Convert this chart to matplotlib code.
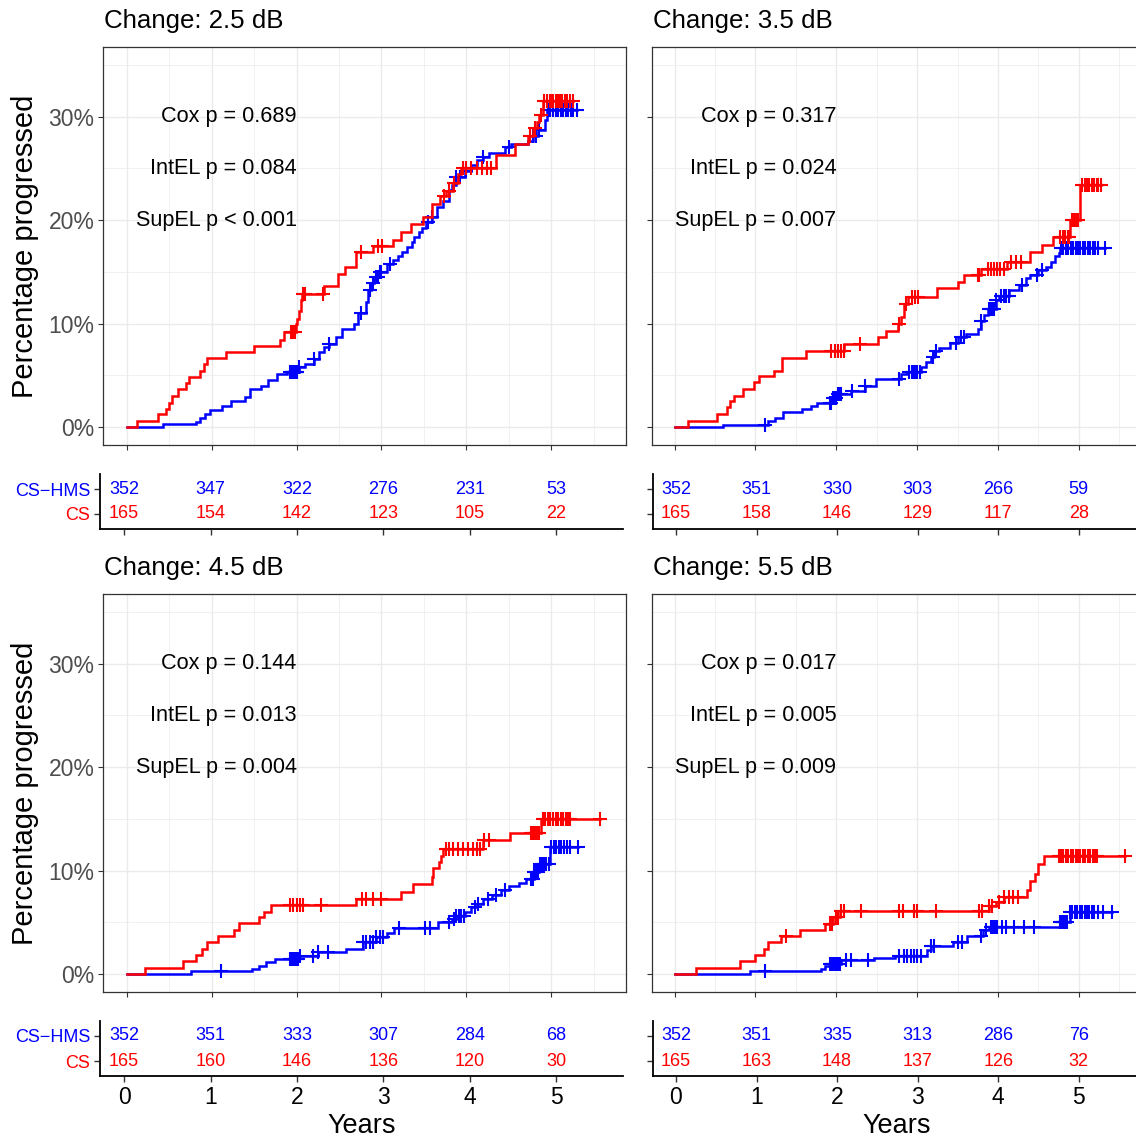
import numpy as np
import matplotlib
matplotlib.use("Agg")
import matplotlib.pyplot as plt
from matplotlib.ticker import FixedLocator

plt.rcParams['font.family'] = ['Liberation Sans', 'DejaVu Sans']

W, H = 1136, 1138
RED = '#FF0000'
BLUE = '#0000FF'

# ---------------- data ----------------
panel_titles = ["Change: 2.5 dB", "Change: 3.5 dB", "Change: 4.5 dB", "Change: 5.5 dB"]
pval_texts = [
    ["Cox p = 0.689", "IntEL p = 0.084", "SupEL p < 0.001"],
    ["Cox p = 0.317", "IntEL p = 0.024", "SupEL p = 0.007"],
    ["Cox p = 0.144", "IntEL p = 0.013", "SupEL p = 0.004"],
    ["Cox p = 0.017", "IntEL p = 0.005", "SupEL p = 0.009"],
]
group_labels = ["CS", "CS\u2212HMS"]
risk_years = [0, 1, 2, 3, 4, 5]
y_ticks_pct = [0, 10, 20, 30]

hms_at_risk_25 = [352, 347, 322, 276, 231, 53]
cs_at_risk_25 = [165, 154, 142, 123, 105, 22]
hms_at_risk_35 = [352, 351, 330, 303, 266, 59]
cs_at_risk_35 = [165, 158, 146, 129, 117, 28]
hms_at_risk_45 = [352, 351, 333, 307, 284, 68]
cs_at_risk_45 = [165, 160, 146, 136, 120, 30]
hms_at_risk_55 = [352, 351, 335, 313, 286, 76]
cs_at_risk_55 = [165, 163, 148, 137, 126, 32]

# step curves: event times (years) and cumulative percentage progressed
cs25_t = [0, 0.116, 0.372, 0.457, 0.496, 0.527, 0.60, 0.70, 0.736, 0.864, 0.915, 0.95, 1.167, 1.496, 1.806,
          1.853, 1.99, 2.008, 2.027, 2.047, 2.058, 2.32, 2.49, 2.57, 2.70, 2.90, 3.14, 3.23, 3.35, 3.49,
          3.59, 3.69, 3.76, 3.84, 3.90, 3.94, 4.35, 4.57, 4.73, 4.79, 4.83, 4.86, 4.90]
cs25_p = [0, 0.58, 1.23, 1.72, 2.36, 3.0, 3.66, 4.2, 4.85, 5.44, 6.08, 6.67, 7.28, 7.86, 8.45,
          9.2, 9.97, 10.45, 11.26, 12.23, 12.88, 13.6, 14.8, 15.5, 16.9, 17.5, 18.1, 18.9, 19.6, 20.3,
          21.6, 22.3, 22.8, 23.6, 24.5, 25.0, 26.3, 27.4, 28.1, 28.9, 29.5, 30.2, 31.5]
cs25_cens = [1.93, 1.96, 1.98, 2.07, 2.10, 2.31, 2.76, 2.96, 3.01, 3.74, 3.80, 3.86, 3.96, 4.00, 4.06,
             4.12, 4.18, 4.24, 4.29, 4.75, 4.81, 4.88, 4.92, 4.95, 4.98, 5.00, 5.02, 5.05, 5.08, 5.10,
             5.13, 5.16, 5.19, 5.22, 5.26]

hms25_t = [0, 0.426, 0.818, 0.864, 0.922, 0.98, 1.116, 1.233, 1.388, 1.446, 1.58, 1.66, 1.775, 1.89, 2.027,
           2.10, 2.20, 2.26, 2.32, 2.38, 2.47, 2.53, 2.68, 2.72, 2.82, 2.84, 2.88, 2.91, 2.97, 3.07,
           3.13, 3.19, 3.24, 3.30, 3.36, 3.38, 3.44, 3.48, 3.52, 3.59, 3.65, 3.73, 3.79, 3.83, 3.88,
           3.98, 4.06, 4.12, 4.19, 4.27, 4.45, 4.52, 4.72, 4.78, 4.84, 4.93, 4.95]
hms25_p = [0, 0.26, 0.52, 0.9, 1.23, 1.6, 2.0, 2.5, 2.85, 3.66, 4.0, 4.5, 5.1, 5.3, 5.76,
           6.1, 6.6, 7.2, 7.7, 8.0, 8.7, 9.5, 10.0, 11.0, 12.1, 13.2, 13.9, 14.5, 15.0, 15.8,
           16.1, 16.5, 16.9, 17.4, 17.9, 18.4, 18.9, 19.2, 19.8, 20.3, 21.3, 21.9, 22.9, 23.4, 24.2,
           24.8, 25.3, 25.8, 26.1, 26.5, 27.1, 27.4, 27.7, 28.1, 28.7, 29.7, 30.7]
hms25_cens = [1.92, 1.94, 1.95, 1.96, 1.97, 1.98, 1.99, 2.00, 2.01, 2.03, 2.20, 2.38, 2.76, 2.86, 2.90,
              2.94, 2.96, 2.98, 3.00, 3.10, 3.55, 3.60, 3.88, 3.92, 4.00, 4.20, 4.50, 4.78, 4.82, 4.86,
              4.96, 4.99, 5.02, 5.05, 5.08, 5.11, 5.14, 5.17, 5.20, 5.23, 5.26, 5.30]

cs35_t = [0, 0.164, 0.52, 0.645, 0.686, 0.74, 0.85, 0.985, 1.04, 1.23, 1.33, 1.63, 2.1, 2.51, 2.62,
          2.76, 2.80, 2.84, 2.885, 3.25, 3.5, 3.58, 3.79, 4.11, 4.40, 4.54, 4.68, 4.89, 5.02]
cs35_p = [0, 0.58, 1.23, 1.88, 2.5, 3.0, 3.66, 4.3, 4.95, 5.4, 6.7, 7.3, 8.0, 8.7, 9.3,
          10.0, 10.6, 11.9, 12.6, 13.4, 14.0, 14.7, 15.3, 15.97, 16.9, 17.6, 18.4, 20.0, 23.4]
cs35_cens = [1.94, 1.98, 2.02, 2.06, 2.09, 2.29, 2.78, 2.86, 2.93, 2.97, 3.01, 3.75, 3.77, 3.87, 3.91,
             3.95, 3.99, 4.03, 4.07, 4.16, 4.22, 4.28, 4.77, 4.80, 4.83, 4.86, 4.88, 4.91, 4.94, 4.97,
             4.99, 5.04, 5.07, 5.10, 5.13, 5.16, 5.19, 5.22, 5.24, 5.28]

hms35_t = [0, 0.6, 1.16, 1.24, 1.34, 1.57, 1.69, 1.76, 1.95, 2.02, 2.18, 2.35, 2.49, 2.80, 2.88,
           3.05, 3.11, 3.17, 3.21, 3.27, 3.40, 3.5, 3.60, 3.75, 3.79, 3.83, 3.87, 3.97, 4.01, 4.14,
           4.26, 4.34, 4.40, 4.50, 4.59, 4.65, 4.71, 4.75, 4.77]
hms35_p = [0, 0.2, 0.58, 0.9, 1.4, 1.7, 2.0, 2.36, 2.8, 3.2, 3.5, 4.0, 4.65, 5.1, 5.3,
           5.8, 6.3, 6.8, 7.3, 7.6, 8.1, 8.7, 9.0, 9.5, 10.2, 10.8, 11.45, 12.3, 12.7, 13.2,
           13.7, 14.4, 14.7, 15.2, 15.5, 16.0, 16.5, 16.8, 17.3]
hms35_cens = [1.12, 1.92, 1.94, 1.96, 1.98, 2.00, 2.02, 2.04, 2.06, 2.20, 2.36, 2.78, 2.90, 2.93, 2.96,
              2.98, 3.00, 3.03, 3.19, 3.23, 3.48, 3.54, 3.58, 3.79, 3.89, 3.91, 3.93, 3.95, 3.97, 4.04,
              4.07, 4.10, 4.13, 4.30, 4.48, 4.54, 4.78, 4.81, 4.84, 4.87, 4.90, 4.93, 4.96, 4.99, 5.02,
              5.05, 5.08, 5.11, 5.14, 5.17, 5.20, 5.24, 5.32]

cs45_t = [0, 0.21, 0.66, 0.82, 0.89, 0.94, 1.08, 1.26, 1.32, 1.56, 1.62, 1.70, 2.70, 3.23, 3.37,
          3.59, 3.61, 3.68, 3.70, 3.72, 4.19, 4.51, 4.88]
cs45_p = [0, 0.58, 1.23, 1.87, 2.4, 3.06, 3.65, 4.26, 4.9, 5.5, 6.03, 6.7, 7.26, 7.97, 8.65,
          9.35, 10.2, 10.8, 11.45, 12.1, 12.97, 13.65, 15.0]
cs45_cens = [1.92, 1.96, 2.00, 2.04, 2.08, 2.29, 2.77, 2.82, 2.90, 3.00, 3.76, 3.80, 3.84, 3.90, 3.96,
             4.02, 4.08, 4.12, 4.16, 4.21, 4.27, 4.76, 4.78, 4.80, 4.82, 4.84, 4.86, 4.90, 4.93, 4.96,
             4.99, 5.02, 5.05, 5.08, 5.11, 5.14, 5.17, 5.20, 5.22, 5.57]

hms45_t = [0, 0.76, 1.48, 1.56, 1.64, 1.74, 2.03, 2.25, 2.58, 2.78, 2.94, 3.06, 3.15, 3.67, 3.83,
           3.88, 3.98, 4.06, 4.12, 4.20, 4.30, 4.41, 4.50, 4.62, 4.70, 4.80, 4.86, 4.99]
hms45_p = [0, 0.26, 0.48, 0.8, 1.13, 1.45, 1.7, 2.1, 2.4, 3.06, 3.55, 4.0, 4.4, 5.0, 5.3,
           5.6, 6.0, 6.45, 6.8, 7.2, 7.6, 8.1, 8.5, 8.8, 9.2, 9.9, 10.6, 12.3]
hms45_cens = [1.11, 1.92, 1.94, 1.96, 1.98, 2.00, 2.02, 2.04, 2.19, 2.25, 2.37, 2.78, 2.82, 2.86, 2.90,
              2.94, 2.98, 3.02, 3.21, 3.51, 3.57, 3.80, 3.85, 3.88, 3.91, 3.94, 3.97, 4.10, 4.14, 4.25,
              4.35, 4.45, 4.76, 4.78, 4.80, 4.82, 4.84, 4.87, 4.89, 4.91, 4.94, 4.97, 5.00, 5.03, 5.06,
              5.09, 5.12, 5.15, 5.18, 5.22, 5.32]

cs55_t = [0, 0.27, 0.81, 1.0, 1.1, 1.16, 1.32, 1.55, 1.86, 1.96, 2.04, 3.89, 3.97, 4.07, 4.36,
          4.40, 4.46, 4.50, 4.57]
cs55_p = [0, 0.58, 1.23, 1.87, 2.4, 3.06, 3.65, 4.26, 4.8, 5.5, 6.1, 6.6, 7.0, 7.4, 8.1,
          9.0, 9.7, 10.6, 11.45]
cs55_cens = [1.38, 1.92, 1.95, 1.99, 2.02, 2.06, 2.10, 2.30, 2.78, 2.82, 2.96, 3.00, 3.23, 3.76, 3.80,
             3.89, 3.93, 4.01, 4.07, 4.13, 4.19, 4.25, 4.75, 4.78, 4.81, 4.84, 4.87, 4.90, 4.93, 4.96,
             4.99, 5.02, 5.05, 5.08, 5.11, 5.14, 5.17, 5.20, 5.22, 5.57]

hms55_t = [0, 0.93, 1.81, 1.86, 1.92, 2.06, 2.47, 2.72, 3.12, 3.17, 3.44, 3.62, 3.81, 3.89, 4.77, 4.89]
hms55_p = [0, 0.26, 0.48, 0.8, 1.0, 1.3, 1.55, 1.77, 2.3, 2.74, 3.06, 3.7, 4.2, 4.5, 5.0, 6.0]
hms55_cens = [1.12, 1.92, 1.94, 1.96, 1.98, 2.00, 2.02, 2.04, 2.12, 2.18, 2.39, 2.78, 2.84, 2.88, 2.92,
              2.96, 3.00, 3.05, 3.17, 3.21, 3.50, 3.56, 3.79, 3.85, 3.91, 3.93, 3.95, 3.97, 3.99, 4.05,
              4.10, 4.20, 4.32, 4.44, 4.77, 4.79, 4.81, 4.83, 4.85, 4.89, 4.92, 4.95, 4.98, 5.01, 5.04,
              5.07, 5.10, 5.13, 5.16, 5.19, 5.24, 5.30, 5.41]

panels = [
    dict(cs=(cs25_t, cs25_p, cs25_cens), hms=(hms25_t, hms25_p, hms25_cens), risk=(hms_at_risk_25, cs_at_risk_25)),
    dict(cs=(cs35_t, cs35_p, cs35_cens), hms=(hms35_t, hms35_p, hms35_cens), risk=(hms_at_risk_35, cs_at_risk_35)),
    dict(cs=(cs45_t, cs45_p, cs45_cens), hms=(hms45_t, hms45_p, hms45_cens), risk=(hms_at_risk_45, cs_at_risk_45)),
    dict(cs=(cs55_t, cs55_p, cs55_cens), hms=(hms55_t, hms55_p, hms55_cens), risk=(hms_at_risk_55, cs_at_risk_55)),
]

# ---------------- layout (pixels) ----------------
def rect(x0, y0, x1, y1):
    return [x0 / W, 1 - y1 / H, (x1 - x0) / W, (y1 - y0) / H]

col_main_x = [(103, 626), (652, 1150)]
col_risk_x = [(100, 623), (653, 1140)]
row_off = [0, 547]
main_y = (47, 445)
risk_y = (474, 529)
title_y = 21
main_xlim = (-0.28, 5.88)
risk_xlim = [(-0.278, 5.77), (-0.285, 5.76)]

fig = plt.figure(figsize=(W / 100, H / 100), dpi=100)


def draw_curve(ax, t, p, cens, color):
    t = np.asarray(t, float)
    p = np.asarray(p, float)
    cens = np.asarray(cens, float)
    t_end = max(t[-1], cens.max())
    ax.step(np.append(t, t_end), np.append(p, p[-1]), where='post', color=color, lw=1.8,
            solid_joinstyle='miter', zorder=3)
    idx = np.searchsorted(t, cens, side='right') - 1
    ax.plot(cens, p[idx], linestyle='none', marker='+', markersize=10.5, markeredgewidth=1.5,
            color=color, zorder=3)


for i, pan in enumerate(panels):
    r, c = divmod(i, 2)
    off = row_off[r]
    mx0, mx1 = col_main_x[c]
    ax = fig.add_axes(rect(mx0, main_y[0] + off, mx1, main_y[1] + off))
    ax.set_xlim(*main_xlim)
    ax.set_ylim(-1.75, 36.75)
    ax.xaxis.set_major_locator(FixedLocator(risk_years))
    ax.xaxis.set_minor_locator(FixedLocator([0.5, 1.5, 2.5, 3.5, 4.5, 5.5]))
    ax.yaxis.set_major_locator(FixedLocator(y_ticks_pct))
    ax.yaxis.set_minor_locator(FixedLocator([5, 15, 25, 35]))
    ax.grid(which='major', color='#EBEBEB', lw=1.0)
    ax.grid(which='minor', color='#EBEBEB', lw=0.5)
    ax.set_axisbelow(True)
    for s in ax.spines.values():
        s.set_color('#333333')
        s.set_linewidth(0.9)
    ax.tick_params(which='major', length=3.6, width=0.8, color='#333333', labelsize=16.5,
                   labelcolor='#4D4D4D', pad=2.5)
    ax.tick_params(which='minor', length=0)
    ax.set_xticklabels([])
    if c == 0:
        ax.set_yticklabels([f"{v}%" for v in y_ticks_pct])
    else:
        ax.set_yticklabels([])

    draw_curve(ax, *pan['hms'], BLUE)
    draw_curve(ax, *pan['cs'], RED)

    for txt, yv in zip(pval_texts[i], [30, 25, 20]):
        ax.text(2.0, yv, txt, ha='right', va='center', fontsize=15.6, color='black')

    fig.text((mx0 + 1) / W, 1 - (title_y + off) / H, panel_titles[i], ha='left', va='center',
             fontsize=18.6, color='black')

    # risk table
    rx0, rx1 = col_risk_x[c]
    rax = fig.add_axes(rect(rx0, risk_y[0] + off, rx1, risk_y[1] + off))
    rax.set_xlim(*risk_xlim[c])
    rax.set_ylim(0.4, 2.6)
    for s in ['top', 'right']:
        rax.spines[s].set_visible(False)
    for s in ['left', 'bottom']:
        rax.spines[s].set_color('black')
        rax.spines[s].set_linewidth(1.3)
    rax.set_xticks(risk_years)
    rax.set_yticks([1, 2])
    rax.tick_params(length=4, width=1.0, color='#333333', labelsize=16.5, pad=3)
    if c == 0:
        rax.set_yticklabels(group_labels, fontsize=13)
        for lab, col in zip(rax.get_yticklabels(), [RED, BLUE]):
            lab.set_color(col)
    else:
        rax.set_yticklabels([])
    if r == 1:
        rax.set_xticklabels([str(v) for v in risk_years], color='black')
        rax.set_xlabel("Years", fontsize=19.5, labelpad=3)
    else:
        rax.set_xticklabels([])
    hms_n, cs_n = pan['risk']
    for t, n in zip(risk_years, hms_n):
        rax.text(t, 2, str(n), ha='center', va='center', fontsize=13, color=BLUE)
    for t, n in zip(risk_years, cs_n):
        rax.text(t, 1, str(n), ha='center', va='center', fontsize=13, color=RED)

for off in row_off:
    fig.text(25 / W, 1 - (246 + off) / H, "Percentage progressed", rotation=90, ha='center',
             va='center', fontsize=21, color='black')

fig.savefig("out.png", dpi=100)
